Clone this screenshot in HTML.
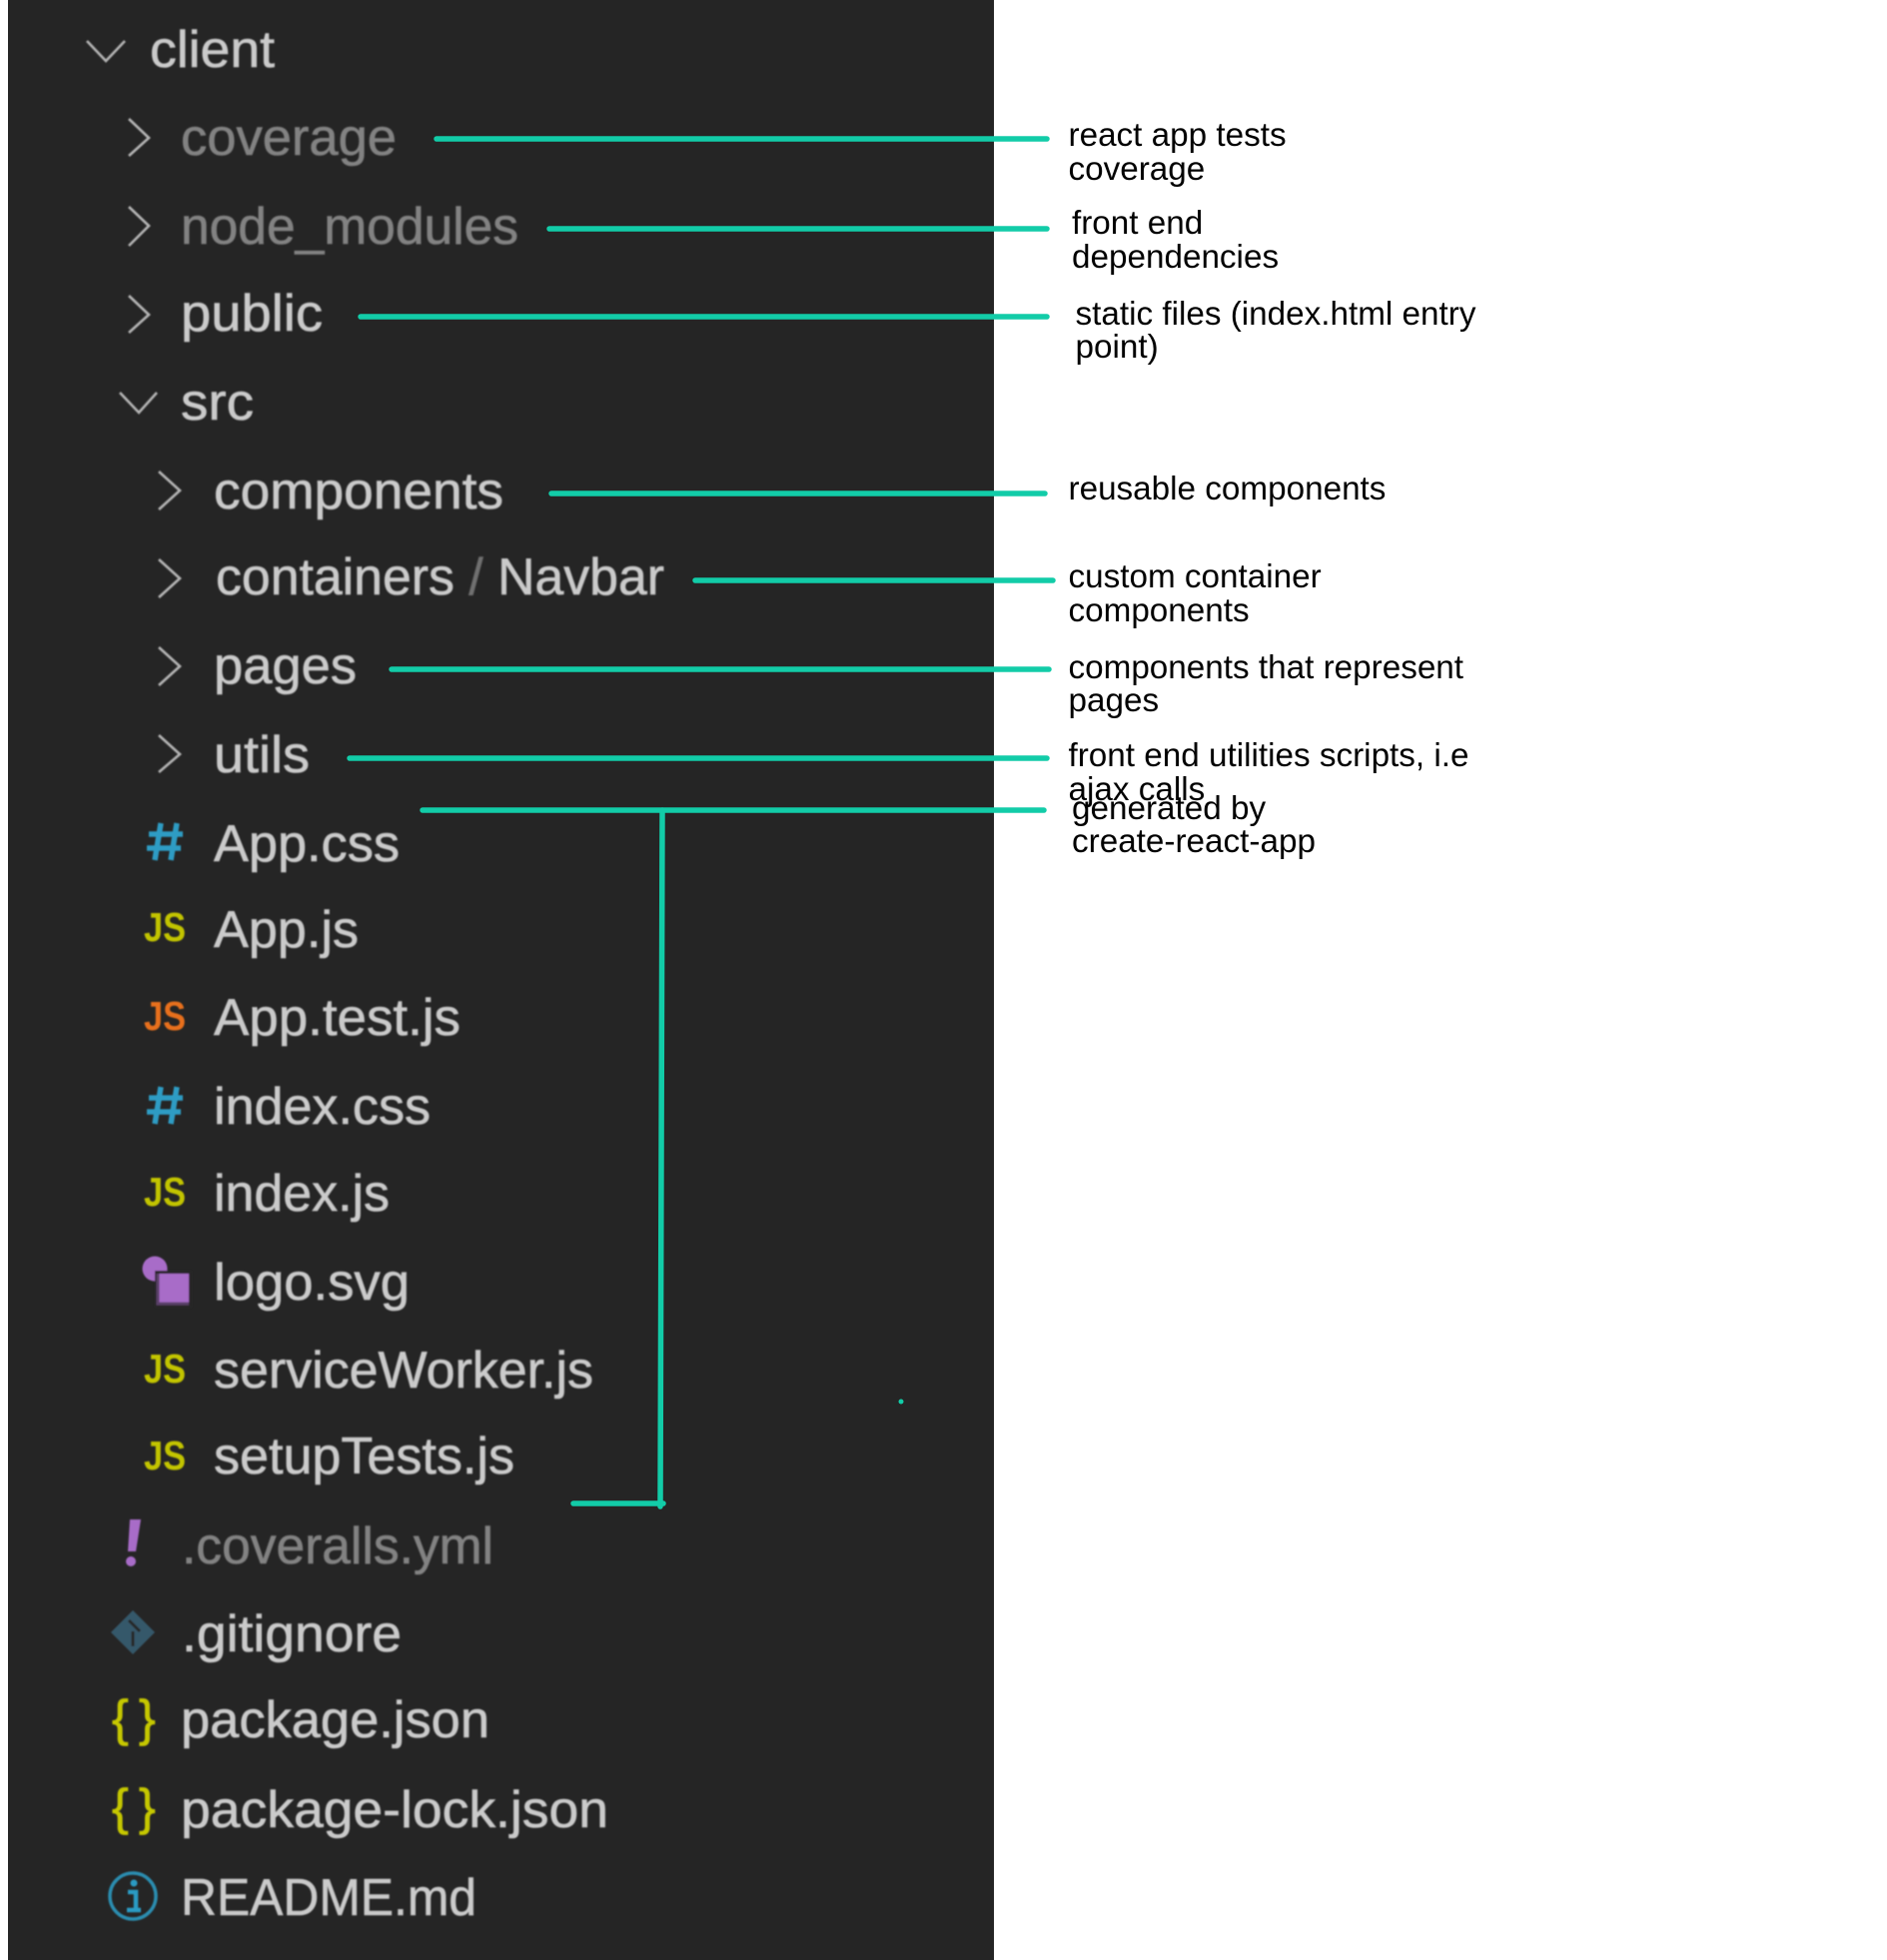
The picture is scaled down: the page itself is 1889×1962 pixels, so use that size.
<!DOCTYPE html>
<html><head><meta charset="utf-8">
<style>html,body{margin:0;padding:0;background:#fff}svg{display:block}
.t{font-family:"Liberation Sans",sans-serif;font-size:52px;fill:#cacaca;stroke:#cacaca;stroke-width:.6}
.d{fill:#828282;stroke:#828282}
.a{font-family:"Liberation Sans",sans-serif;font-size:33.25px;fill:#000}
.c{fill:none;stroke:#b4b4b4;stroke-width:2.6}
.l{stroke:#12cca8;stroke-width:5.5;stroke-linecap:round;fill:none}
.js{font-family:"Liberation Sans",sans-serif;font-size:41px;font-weight:bold;fill:#c2c400}
.br{font-family:"Liberation Sans",sans-serif;font-size:50px;fill:#c6c800;stroke:#c6c800;stroke-width:.8}
</style></head><body>
<svg width="1889" height="1962" viewBox="0 0 1889 1962" xmlns="http://www.w3.org/2000/svg">
<defs><filter id="b" x="-5%" y="-5%" width="110%" height="110%"><feGaussianBlur stdDeviation="0.7"/></filter></defs>
<rect width="1889" height="1962" fill="#fff"/>
<rect x="8" y="0" width="987" height="1962" fill="#252525"/>
<g filter="url(#b)">
<text class="t" x="150" y="67" textLength="125" lengthAdjust="spacingAndGlyphs">client</text>
<text class="t d" x="181" y="155" textLength="216" lengthAdjust="spacingAndGlyphs">coverage</text>
<text class="t d" x="181" y="244" textLength="338" lengthAdjust="spacingAndGlyphs">node_modules</text>
<text class="t" x="181" y="331" textLength="142" lengthAdjust="spacingAndGlyphs">public</text>
<text class="t" x="181" y="420" textLength="73" lengthAdjust="spacingAndGlyphs">src</text>
<text class="t" x="214" y="509" textLength="290" lengthAdjust="spacingAndGlyphs">components</text>
<text class="t" x="216" y="595" textLength="449" lengthAdjust="spacingAndGlyphs">containers <tspan fill="#6f6f6f" stroke="#6f6f6f">/</tspan> Navbar</text>
<text class="t" x="214" y="684" textLength="143" lengthAdjust="spacingAndGlyphs">pages</text>
<text class="t" x="214" y="773" textLength="96" lengthAdjust="spacingAndGlyphs">utils</text>
<text class="t" x="214" y="862" textLength="186" lengthAdjust="spacingAndGlyphs">App.css</text>
<text class="t" x="214" y="948" textLength="145" lengthAdjust="spacingAndGlyphs">App.js</text>
<text class="t" x="214" y="1036" textLength="247" lengthAdjust="spacingAndGlyphs">App.test.js</text>
<text class="t" x="214" y="1125" textLength="217" lengthAdjust="spacingAndGlyphs">index.css</text>
<text class="t" x="214" y="1212" textLength="176" lengthAdjust="spacingAndGlyphs">index.js</text>
<text class="t" x="214" y="1301" textLength="196" lengthAdjust="spacingAndGlyphs">logo.svg</text>
<text class="t" x="214" y="1389" textLength="380" lengthAdjust="spacingAndGlyphs">serviceWorker.js</text>
<text class="t" x="214" y="1475" textLength="301" lengthAdjust="spacingAndGlyphs">setupTests.js</text>
<text class="t d" x="182" y="1565" textLength="312" lengthAdjust="spacingAndGlyphs">.coveralls.yml</text>
<text class="t" x="182" y="1653" textLength="220" lengthAdjust="spacingAndGlyphs">.gitignore</text>
<text class="t" x="181" y="1739" textLength="309" lengthAdjust="spacingAndGlyphs">package.json</text>
<text class="t" x="181" y="1829" textLength="428" lengthAdjust="spacingAndGlyphs">package-lock.json</text>
<text class="t" x="181" y="1917" textLength="296" lengthAdjust="spacingAndGlyphs">README.md</text>
<!-- chevrons -->
<polyline class="c" points="87,41 106,61 125,41"/>
<polyline class="c" points="129,119 149,138 129,156"/>
<polyline class="c" points="129,207 149,226 129,246"/>
<polyline class="c" points="129,296 149,315 129,333"/>
<polyline class="c" points="120,393 139,413 157,393"/>
<polyline class="c" points="159,472 180,491 159,510"/>
<polyline class="c" points="159,560 180,579 159,598"/>
<polyline class="c" points="159,648 180,667 159,686"/>
<polyline class="c" points="159,736 180,755 159,773"/>
<!-- css icons -->
<g stroke="#2f9cc4" stroke-width="5.5" fill="none">
<path d="M161,824 L155,861 M177,824 L171,861 M149,835 H183 M147,849 H181"/>
<path d="M161,1088 L155,1125 M177,1088 L171,1125 M149,1099 H183 M147,1113 H181"/>
</g>
<!-- js icons -->
<text class="js" x="144" y="942" textLength="42" lengthAdjust="spacingAndGlyphs">JS</text>
<text class="js" x="144" y="1031" textLength="42" lengthAdjust="spacingAndGlyphs" style="fill:#e8701a">JS</text>
<text class="js" x="144" y="1207" textLength="42" lengthAdjust="spacingAndGlyphs">JS</text>
<text class="js" x="144" y="1384" textLength="42" lengthAdjust="spacingAndGlyphs">JS</text>
<text class="js" x="144" y="1471" textLength="42" lengthAdjust="spacingAndGlyphs">JS</text>
<!-- logo -->
<circle cx="155" cy="1270" r="12.5" fill="#a86cc8"/>
<rect x="155" y="1272" width="37" height="37" fill="#252525"/>
<rect x="158" y="1275" width="31" height="31" fill="#a86cc8"/>
<path d="M158,1275 V1305 H189" fill="none" stroke="#5a3f68" stroke-width="3"/>
<!-- exclamation -->
<polygon points="130,1521 141,1521 136,1553 128,1553" fill="#a86cc8"/>
<circle cx="131" cy="1563" r="5" fill="#a86cc8"/>
<!-- git -->
<polygon points="133,1612 155,1634 133,1656 111,1634" fill="#36596a"/>
<path d="M129,1622 L140,1633 M133,1633 V1648" stroke="#252525" stroke-width="3" fill="none"/>
<!-- braces -->
<text class="br" x="112" y="1737">{</text><text class="br" x="139" y="1737">}</text>
<text class="br" x="112" y="1826">{</text><text class="br" x="139" y="1826">}</text>
<!-- info -->
<circle cx="133" cy="1898" r="23" fill="none" stroke="#2a8db0" stroke-width="3.5"/>
<path d="M128,1894 H136 V1912 M127,1912 H141" fill="none" stroke="#2a9bc4" stroke-width="4.5"/>
<circle cx="134" cy="1885" r="3.5" fill="#2a9bc4"/>
</g>
<!-- connectors -->
<line class="l" x1="437" y1="139" x2="1048" y2="139"/>
<line class="l" x1="550" y1="229" x2="1048" y2="229"/>
<line class="l" x1="361" y1="317" x2="1048" y2="317"/>
<line class="l" x1="552" y1="494" x2="1046" y2="494"/>
<line class="l" x1="696" y1="581" x2="1054" y2="581"/>
<line class="l" x1="392" y1="670" x2="1050" y2="670"/>
<line class="l" x1="350" y1="759" x2="1048" y2="759"/>
<line class="l" x1="423" y1="811" x2="1045" y2="811"/>
<line class="l" x1="663" y1="811" x2="661" y2="1508"/>
<line class="l" x1="574" y1="1505" x2="664" y2="1505"/>
<circle cx="902" cy="1403" r="2.5" fill="#12cca8"/>
<!-- annotations -->
<text class="a" x="1069.5" y="146">react app tests</text>
<text class="a" x="1069.5" y="180">coverage</text>
<text class="a" x="1073" y="234">front end</text>
<text class="a" x="1073" y="268">dependencies</text>
<text class="a" x="1076.5" y="325">static files (index.html entry</text>
<text class="a" x="1076.5" y="358">point)</text>
<text class="a" x="1069.5" y="500">reusable components</text>
<text class="a" x="1069.5" y="588">custom container</text>
<text class="a" x="1069.5" y="622">components</text>
<text class="a" x="1069.5" y="679">components that represent</text>
<text class="a" x="1069.5" y="712">pages</text>
<text class="a" x="1069.5" y="767">front end utilities scripts, i.e</text>
<text class="a" x="1069.5" y="801">ajax calls</text>
<text class="a" x="1073" y="820">generated by</text>
<text class="a" x="1073" y="853">create-react-app</text>
</svg>
</body></html>
